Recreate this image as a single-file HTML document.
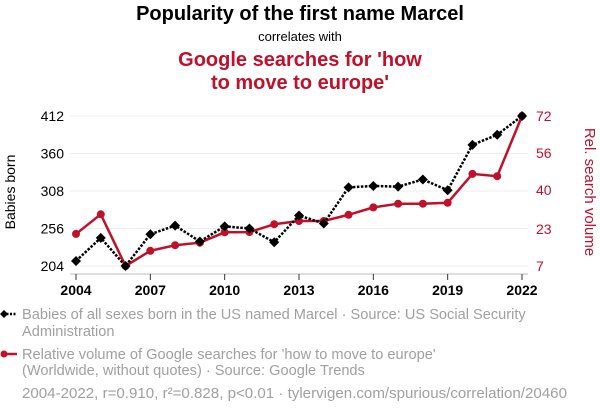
<!DOCTYPE html>
<html><head><meta charset="utf-8"><style>
body{margin:0;background:#fff;font-family:"Liberation Sans",sans-serif;}
svg{display:block}
</style></head><body>
<svg id="chart" width="600" height="414" font-family="Liberation Sans, sans-serif">
<text x="300" y="20" text-anchor="middle" font-size="20" font-weight="bold" fill="#000">Popularity of the first name Marcel</text>
<text x="300" y="41" text-anchor="middle" font-size="13" fill="#000">correlates with</text>
<text x="300" y="66" text-anchor="middle" font-size="20" font-weight="bold" fill="#c0102a">Google searches for 'how</text>
<text x="300" y="89" text-anchor="middle" font-size="20" font-weight="bold" fill="#c0102a">to move to europe'</text>
<g id="grid"></g><g id="axes"></g><g id="marks"></g>
<text transform="translate(15,192) rotate(-90)" text-anchor="middle" font-size="14" fill="#000">Babies born</text>
<text transform="translate(585,192) rotate(90)" text-anchor="middle" font-size="15" fill="#c0102a">Rel. search volume</text>
<g>
<line x1="3" y1="314" x2="17" y2="314" stroke="#000" stroke-width="2.5" stroke-dasharray="2,1.5"/>
<path d="M4,310 L8,314 L4,318 L0,314Z" fill="#000"/>
<text x="22" y="319" font-size="14.6" fill="#a0a0a0">Babies of all sexes born in the US named Marcel · Source: US Social Security</text>
<text x="22" y="336" font-size="14.6" fill="#a0a0a0">Administration</text></g>
<g>
<line x1="3" y1="354" x2="17" y2="354" stroke="#c0102a" stroke-width="2.5"/>
<circle cx="4" cy="354" r="3.5" fill="#c0102a"/>
<text x="22" y="359" font-size="14.6" fill="#a0a0a0">Relative volume of Google searches for 'how to move to europe'</text>
<text x="22" y="375" font-size="14.6" fill="#a0a0a0">(Worldwide, without quotes) · Source: Google Trends</text></g>
<text x="22" y="398" font-size="15.1" fill="#a0a0a0">2004-2022, r=0.910, r²=0.828, p&lt;0.01 · tylervigen.com/spurious/correlation/20460</text>
</svg>
<script>
const years=[2004,2005,2006,2007,2008,2009,2010,2011,2012,2013,2014,2015,2016,2017,2018,2019,2020,2021,2022];
const babies=[211,243,204,248,260,238,259,256,237,274,263,313,315,314,324,309,372,386,412];
const searches=[20.9,29.4,7,13.6,16,17.1,21.6,21.7,25.1,26.5,26.5,29.2,32.4,34,34,34.4,46.9,45.9,72];
const leftTicks=[204,256,308,360,412];
const rightTicks=[7,23,40,56,72];
const xTicks=[2004,2007,2010,2013,2016,2019,2022];
const NS="http://www.w3.org/2000/svg";
const x=v=>76+(v-2004)/(18)*446;
const yl=v=>266-(v-204)/208*150;
const yr=v=>266-(v-7)/65*150;
function mk(t,a,p){const e=document.createElementNS(NS,t);for(const k in a)e.setAttribute(k,a[k]);if(p)p.appendChild(e);return e;}
const grid=document.getElementById('grid'),axes=document.getElementById('axes'),marks=document.getElementById('marks');
leftTicks.forEach(v=>{const g=mk('line',{x1:70,x2:528,y1:yl(v),y2:yl(v),stroke:'#eeeeee','stroke-width':1},grid);


const t=mk('text',{x:64,y:yl(v)+5,'text-anchor':'end','font-size':14,fill:'#000'},axes);t.textContent=v;

});
rightTicks.forEach(v=>{const t=mk('text',{x:536,y:yr(v)+5,'font-size':14,fill:'#c0102a'},axes);t.textContent=v;

});
const ax=mk('line',{x1:70,x2:528,y1:274,y2:274,stroke:'#bbb','stroke-width':1},axes);


xTicks.forEach(v=>{mk('line',{x1:x(v),x2:x(v),y1:274,y2:280,stroke:'#333'},axes);
const t=mk('text',{x:x(v),y:295,'text-anchor':'middle','font-size':14,'font-weight':'bold',fill:'#000'},axes);t.textContent=v;

});
const rp=mk('polyline',{points:years.map((y,i)=>x(y)+','+yr(searches[i])).join(' '),fill:'none',stroke:'#c0102a','stroke-width':2.5},marks);


years.forEach((y,i)=>{const c=mk('circle',{cx:x(y),cy:yr(searches[i]),r:4,fill:'#c0102a'},marks);

});
const bp=mk('polyline',{points:years.map((y,i)=>x(y)+','+yl(babies[i])).join(' '),fill:'none',stroke:'#000','stroke-width':2.5,'stroke-dasharray':'2.5,1.5'},marks);


years.forEach((y,i)=>{const cx=x(y),cy=yl(babies[i]);const d=mk('path',{d:`M${cx},${cy-5}L${cx+5},${cy}L${cx},${cy+5}L${cx-5},${cy}Z`,fill:'#000'},marks);

});
</script>
</body></html>
